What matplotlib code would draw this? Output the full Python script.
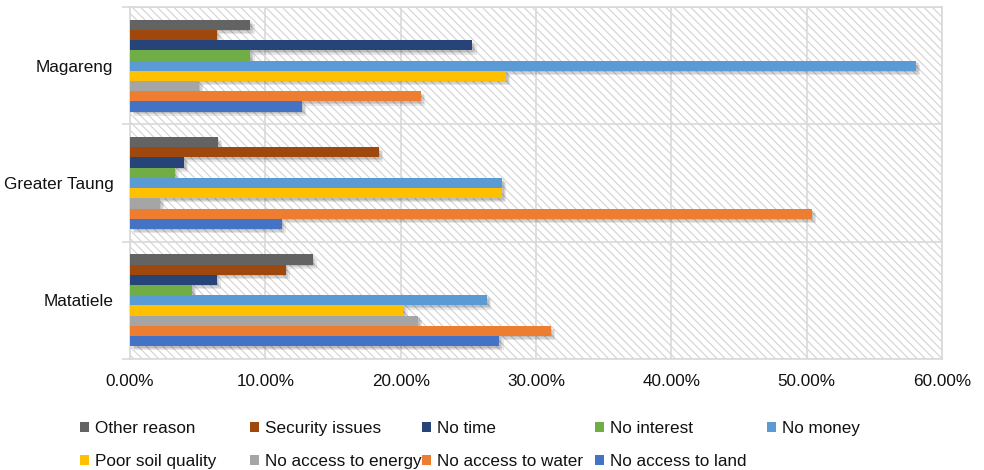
import matplotlib
matplotlib.use("Agg")
import matplotlib.pyplot as plt
import matplotlib.patheffects as pe
from matplotlib import font_manager
from matplotlib.patches import Patch, Rectangle
from matplotlib.ticker import FuncFormatter, FixedLocator

installed = {f.name for f in font_manager.fontManager.ttflist}
if "Liberation Sans Narrow" in installed:
    plt.rcParams['font.family'] = ['Liberation Sans Narrow', 'DejaVu Sans']
    FS = 14
else:
    plt.rcParams['font.family'] = ['Liberation Sans', 'DejaVu Sans']
    FS = 12.3
plt.rcParams['hatch.linewidth'] = 0.8

# Districts, bottom to top
categories = ["Matatiele", "Greater Taung", "Magareng"]

# Reasons (legend order) and their shares (%) per district (Matatiele, Greater Taung, Magareng)
reasons = ["Other reason", "Security issues", "No time", "No interest", "No money",
           "Poor soil quality", "No access to energy", "No access to water", "No access to land"]
other_reason = [13.5, 6.5, 8.9]
security_issues = [11.5, 18.4, 6.4]
no_time = [6.4, 4.0, 25.3]
no_interest = [4.6, 3.3, 8.9]
no_money = [26.4, 27.5, 58.1]
poor_soil = [20.2, 27.5, 27.8]
no_energy = [21.3, 2.2, 5.1]
no_water = [31.1, 50.4, 21.5]
no_land = [27.3, 11.2, 12.7]
series = [other_reason, security_issues, no_time, no_interest, no_money,
          poor_soil, no_energy, no_water, no_land]
colors = ["#636363", "#9E480E", "#264478", "#70AD47", "#5B9BD5",
          "#FFC000", "#A5A5A5", "#ED7D31", "#4472C4"]

fig = plt.figure(figsize=(9.84, 4.70), dpi=100)
ax = fig.add_axes([130 / 984, 1 - 359 / 470, (942 - 130) / 984, (359 - 7) / 470])

# Hatched plot-area background
bg = Rectangle((0, 0), 1, 1, transform=ax.transAxes, facecolor="white",
               edgecolor="#d3d3d3", hatch="\\\\\\\\", linewidth=0, zorder=0)
ax.add_patch(bg)

bar_h = 0.087
n = len(series)
# soft drop shadow built from a few faint offset copies
shadow = [pe.SimplePatchShadow(offset=(d, -d), shadow_rgbFace="black", alpha=0.09)
          for d in (1.0, 2.0, 3.0)] + [pe.Normal()]
for i, (vals, col, lab) in enumerate(zip(series, colors, reasons)):
    ys = [c + ((n - 1) / 2 - i) * bar_h for c in range(len(categories))]
    ax.barh(ys, [v / 100 for v in vals], height=bar_h, color=col, label=lab,
            zorder=3, path_effects=shadow)

ax.set_xlim(0, 0.6)
ax.set_ylim(-0.5, len(categories) - 0.5)
ax.set_xticks([0, 0.1, 0.2, 0.3, 0.4, 0.5, 0.6])
ax.xaxis.set_major_formatter(FuncFormatter(lambda v, p: f"{v * 100:.2f}%"))
ax.set_yticks(range(len(categories)))
ax.set_yticklabels(categories)
ax.yaxis.set_minor_locator(FixedLocator([-0.5, 0.5, 1.5, 2.5]))

ax.tick_params(axis="x", length=0, pad=11, labelsize=FS, labelcolor="#111111")
ax.tick_params(axis="y", which="major", length=0, pad=12, labelsize=FS, labelcolor="#111111")
ax.tick_params(axis="y", which="minor", length=6, width=1.2, color="#d9d9d9")

ax.grid(axis="x", color="#d9d9d9", linewidth=1.2, zorder=1)
ax.grid(axis="y", which="minor", color="#d9d9d9", linewidth=1.2, zorder=1)
ax.set_axisbelow(True)
for s in ax.spines.values():
    s.set_color("#d9d9d9")
    s.set_linewidth(1.2)

# Legend laid out in columns, filled row by row
col_x = [80, 250, 422, 595, 767]
handles = [Patch(facecolor=c) for c in colors]
rows = 2
for k, x in enumerate(col_x):
    idx = [k + r * len(col_x) for r in range(rows) if k + r * len(col_x) < n]
    fig.legend([handles[j] for j in idx], [reasons[j] for j in idx],
               loc="upper left", bbox_to_anchor=(x / 984, 1 - 421 / 470),
               frameon=False, fontsize=FS, handlelength=0.55, handleheight=0.55,
               handletextpad=0.35, labelspacing=1.05, borderpad=0, borderaxespad=0,
               labelcolor="#111111")

fig.savefig("out.png", dpi=100)
